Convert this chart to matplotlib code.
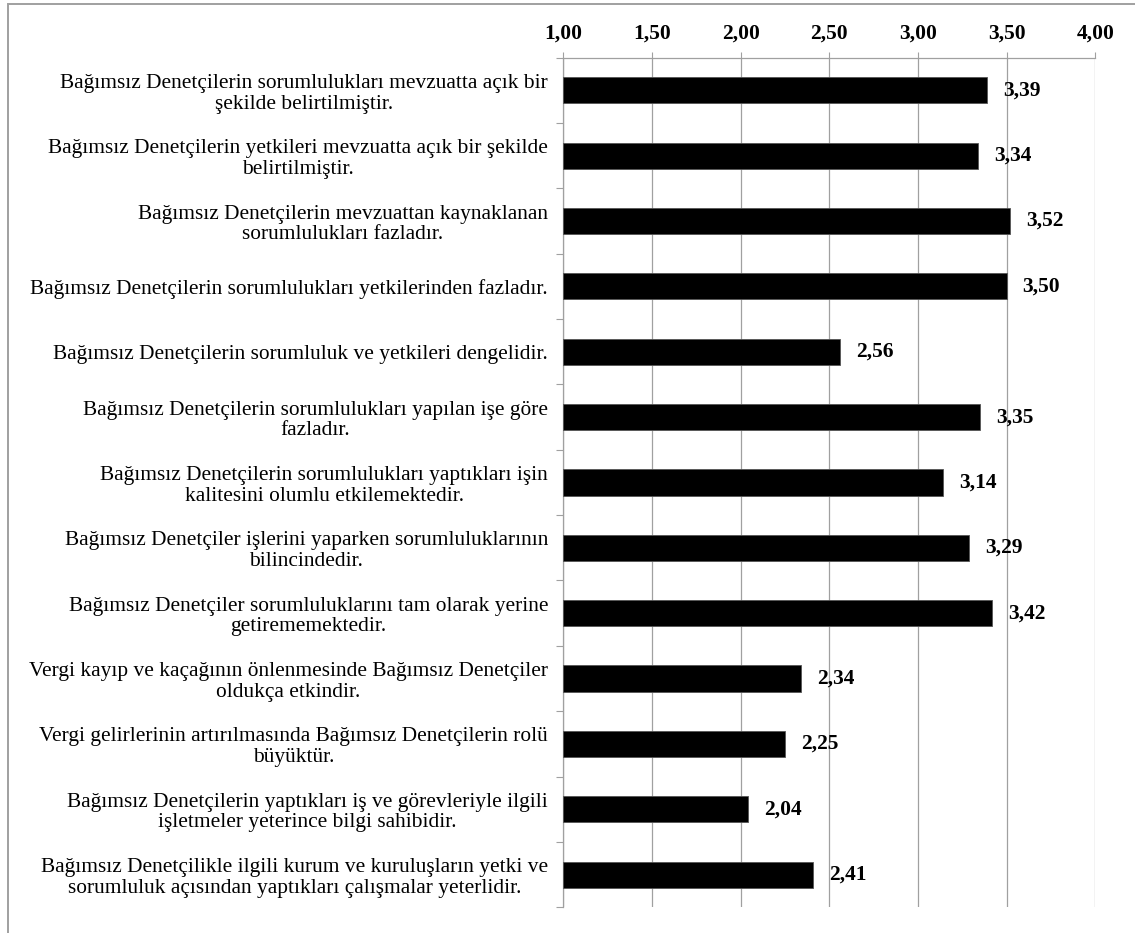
import matplotlib
matplotlib.use('Agg')
import matplotlib.pyplot as plt
from matplotlib.patches import Rectangle
import numpy as np

# --- data (top to bottom) ---
labels = [
    "Bağımsız Denetçilerin sorumlulukları mevzuatta açık bir\nşekilde belirtilmiştir.",
    "Bağımsız Denetçilerin yetkileri mevzuatta açık bir şekilde\nbelirtilmiştir.",
    "Bağımsız Denetçilerin mevzuattan kaynaklanan\nsorumlulukları fazladır.",
    "Bağımsız Denetçilerin sorumlulukları yetkilerinden fazladır.",
    "Bağımsız Denetçilerin sorumluluk ve yetkileri dengelidir.",
    "Bağımsız Denetçilerin sorumlulukları yapılan işe göre\nfazladır.",
    "Bağımsız Denetçilerin sorumlulukları yaptıkları işin\nkalitesini olumlu etkilemektedir.",
    "Bağımsız Denetçiler işlerini yaparken sorumluluklarının\nbilincindedir.",
    "Bağımsız Denetçiler sorumluluklarını tam olarak yerine\ngetirememektedir.",
    "Vergi kayıp ve kaçağının önlenmesinde Bağımsız Denetçiler\noldukça etkindir.",
    "Vergi gelirlerinin artırılmasında Bağımsız Denetçilerin rolü\nbüyüktür.",
    "Bağımsız Denetçilerin yaptıkları iş ve görevleriyle ilgili\nişletmeler yeterince bilgi sahibidir.",
    "Bağımsız Denetçilikle ilgili kurum ve kuruluşların yetki ve\nsorumluluk açısından yaptıkları çalışmalar yeterlidir.",
]
means = [3.39, 3.34, 3.52, 3.50, 2.56, 3.35, 3.14, 3.29, 3.42, 2.34, 2.25, 2.04, 2.41]
x_ticks = [1.0, 1.5, 2.0, 2.5, 3.0, 3.5, 4.0]

def fmt(v):
    return f"{v:.2f}".replace('.', ',')

plt.rcParams['font.family'] = ['Liberation Serif', 'DejaVu Serif']
grid_col = '#a0a0a0'

fig = plt.figure(figsize=(11.35, 9.33), dpi=100)
ax = fig.add_axes([0.4963, 0.0276, 0.4687, 0.9106])

base = 1.0
y = np.arange(len(labels))
ax.barh(y, [m - base for m in means], left=base, height=0.4,
        color='black', edgecolor='#555555', linewidth=0.6, zorder=3)

for yi, m in zip(y, means):
    ax.annotate(fmt(m), (m, yi), xytext=(11.5, 0), textcoords='offset points',
                ha='left', va='center', fontsize=15.5, fontweight='bold', zorder=4)

ax.set_xlim(1.0, 4.0)
ax.set_ylim(len(labels) - 0.5, -0.5)

# x axis on top, bold comma-decimal labels
ax.xaxis.tick_top()
ax.set_xticks(x_ticks)
ax.set_xticklabels([fmt(t) for t in x_ticks], fontsize=15.5, fontweight='bold')
ax.tick_params(axis='x', direction='out', length=4.5, width=0.8, color=grid_col, pad=5.5)
ax.grid(axis='x', color=grid_col, linewidth=0.9, zorder=0)

# category labels without ticks, ticks at category boundaries
ax.set_yticks(y)
ax.set_yticklabels(labels, fontsize=15.4, multialignment='center', linespacing=1.12)
ax.tick_params(axis='y', which='major', length=0, pad=11)
ax.set_yticks(np.arange(-0.5, len(labels), 1.0), minor=True)
ax.tick_params(axis='y', which='minor', direction='out', length=4.8, width=0.8, color=grid_col)

for side in ['bottom', 'right']:
    ax.spines[side].set_visible(False)
ax.spines['left'].set_color(grid_col)
ax.spines['top'].set_color(grid_col)
ax.spines['left'].set_linewidth(0.9)
ax.spines['top'].set_linewidth(0.9)

# outer chart border
fig.patches.append(Rectangle((8.3 / 1135, -0.1), 1.2, 1.1 - 4 / 933,
                             transform=fig.transFigure, fill=False,
                             edgecolor=grid_col, linewidth=1.4))

fig.savefig('out.png', dpi=100)
